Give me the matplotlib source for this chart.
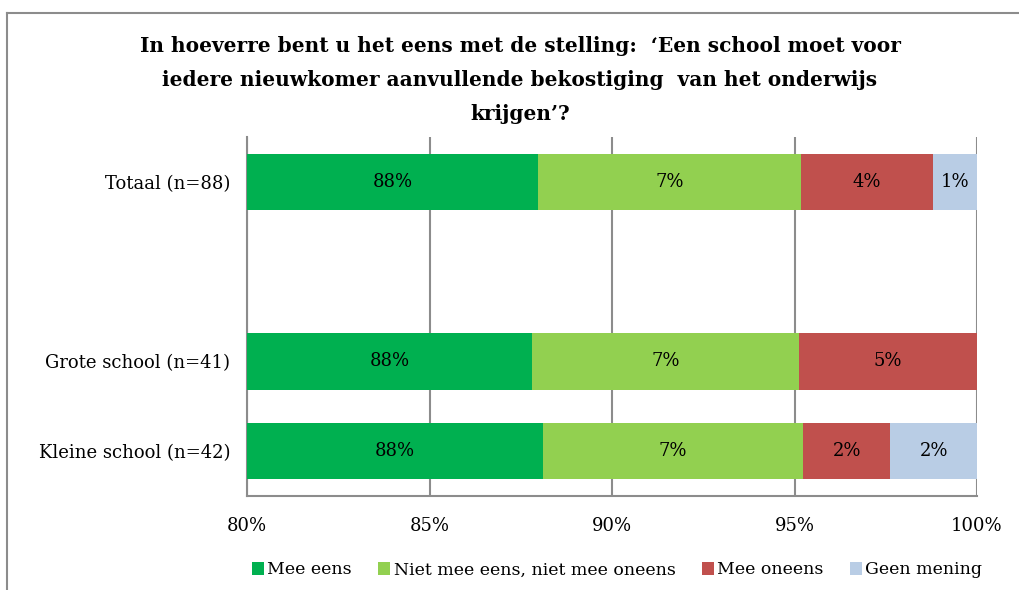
import matplotlib
matplotlib.use("Agg")
import matplotlib.pyplot as plt
from matplotlib.lines import Line2D
from matplotlib.patches import Patch
import numpy as np

plt.rcParams['font.family'] = ['DejaVu Serif']

categories = ['Totaal (n=88)', '', 'Grote school (n=41)', 'Kleine school (n=42)']
series = ['Mee eens', 'Niet mee eens, niet mee oneens', 'Mee oneens', 'Geen mening']
colors = ['#00B050', '#92D050', '#C0504D', '#B9CDE5']

mee_eens = [87.97, 0, 87.80, 88.10]
neutraal = [7.21, 0, 7.32, 7.14]
mee_oneens = [3.61, 0, 4.88, 2.38]
geen_mening = [1.21, 0, 0, 2.38]

labels = [
    ['88%', '', '88%', '88%'],
    ['7%', '', '7%', '7%'],
    ['4%', '', '5%', '2%'],
    ['1%', '', '', '2%'],
]

title = ("In hoeverre bent u het eens met de stelling:  \u2018Een school moet voor\n"
         "iedere nieuwkomer aanvullende bekostiging  van het onderwijs\n"
         "krijgen\u2019?")

fig = plt.figure(figsize=(10.19, 5.9), dpi=100)
ax = fig.add_axes([247 / 1019, 1 - 496 / 590, 730 / 1019, 359 / 590])

y = np.arange(len(categories))
data = [mee_eens, neutraal, mee_oneens, geen_mening]
left = np.zeros(len(categories))
xmin, xmax = 80, 100
for vals, col, labs in zip(data, colors, labels):
    vals = np.array(vals)
    ax.barh(y, vals, left=left, height=0.63, color=col, zorder=3)
    for i, (v, l) in enumerate(zip(vals, labs)):
        if v > 0 and l:
            a = max(left[i], xmin)
            b = min(left[i] + v, xmax)
            ax.text((a + b) / 2, y[i], l, ha='center', va='center', fontsize=13, zorder=4)
    left = left + vals

ax.set_xlim(xmin, xmax)
ax.set_ylim(len(categories) - 0.5, -0.5)
ax.set_yticks(y)
ax.set_yticklabels(categories, fontsize=13)
ax.set_xticks([80, 85, 90, 95, 100])
ax.set_xticklabels(['80%', '85%', '90%', '95%', '100%'], fontsize=13)
ax.tick_params(axis='y', length=0, pad=12)
ax.tick_params(axis='x', length=0, pad=15)
ax.grid(axis='x', color='#8C8C8C', linewidth=1.5, zorder=0)
for s in ['top', 'right']:
    ax.spines[s].set_visible(False)
for s in ['left', 'bottom']:
    ax.spines[s].set_color('#8C8C8C')
    ax.spines[s].set_linewidth(1.5)

fig.text(520 / 1019, 1 - 80 / 590, title, ha='center', va='center',
         fontsize=14.5, fontweight='bold', linespacing=1.9)

handles = [Patch(facecolor=c, edgecolor='none') for c in colors]
fig.legend(handles, series, loc='center', bbox_to_anchor=(617 / 1019, 1 - 570 / 590),
           ncol=4, frameon=False, fontsize=12.5, handlelength=0.7, handleheight=0.7,
           handletextpad=0.2, columnspacing=1.5)

fig.add_artist(Line2D([7 / 1019, 1], [1 - 13 / 590, 1 - 13 / 590], transform=fig.transFigure,
                      color='#8C8C8C', linewidth=1.5))
fig.add_artist(Line2D([7 / 1019, 7 / 1019], [0, 1 - 13 / 590], transform=fig.transFigure,
                      color='#8C8C8C', linewidth=1.5))

fig.savefig('out.png', dpi=100)
